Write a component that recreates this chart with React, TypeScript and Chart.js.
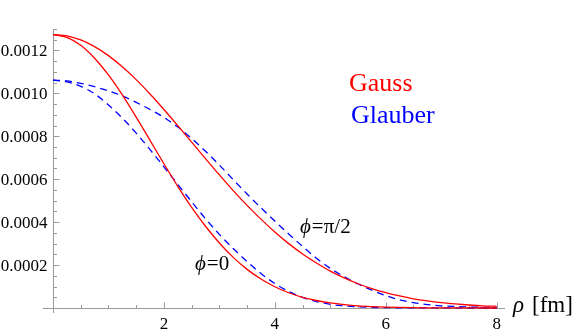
import React, { useEffect, useRef } from "react";
import { Chart, registerables } from "chart.js";

Chart.register(...registerables);

// rho values (fm)
const rho = [0, 0.25, 0.5, 0.75, 1, 1.25, 1.5, 1.75, 2, 2.25, 2.5, 2.75, 3, 3.25, 3.5, 3.75, 4, 4.25, 4.5, 4.75, 5, 5.25, 5.5, 5.75, 6, 6.25, 6.5, 6.75, 7, 7.25, 7.5, 7.75, 8];

// Gauss, phi = 0
const gaussPhi0 = [0.001274, 0.001261, 0.001224, 0.001164, 0.001086, 0.000993, 0.000889, 0.000781, 0.000672, 0.000567, 0.000469, 0.000381, 0.000303, 0.000236, 0.00018, 0.000135, 0.000099, 0.000071, 0.00005, 0.000035, 0.000024, 0.000016, 0.00001, 0.0000065, 0.0000041, 0.0000025, 0.0000015, 0.0000009, 0.0000005, 0.0000003, 0.0000002, 0.0000001, 0];
// Gauss, phi = pi/2
const gaussPhiHalfPi = [0.001274, 0.001268, 0.001249, 0.001218, 0.001176, 0.001124, 0.001064, 0.000997, 0.000925, 0.00085, 0.000773, 0.000696, 0.00062, 0.000547, 0.000478, 0.000414, 0.000354, 0.0003, 0.000252, 0.00021, 0.000172, 0.00014, 0.000113, 0.00009, 0.0000715, 0.000056, 0.000043, 0.000033, 0.000025, 0.000019, 0.000014, 0.00001, 0.0000076];
// Glauber, phi = 0
const glauberPhi0 = [0.001062, 0.001054, 0.001033, 0.000998, 0.000946, 0.000885, 0.000815, 0.000738, 0.000658, 0.000576, 0.000495, 0.000416, 0.000343, 0.000277, 0.000216, 0.000161, 0.000114, 0.000077, 0.000049, 0.00003, 0.000017, 0.00001, 0.000006, 0.000003, 0.000002, 0.000001, 0.000001, 0.0000005, 0.0000003, 0.0000002, 0.0000001, 0.0000001, 0];
// Glauber, phi = pi/2
const glauberPhiHalfPi = [0.001062, 0.001058, 0.001047, 0.001031, 0.001012, 0.000988, 0.000958, 0.000925, 0.000888, 0.000843, 0.00079, 0.00073, 0.000666, 0.000598, 0.000531, 0.000467, 0.000405, 0.000345, 0.000287, 0.000232, 0.000185, 0.000146, 0.000112, 0.000083, 0.000058, 0.000038, 0.000025, 0.000016, 0.00001, 0.000007, 0.000005, 0.000003, 0.000002];

const xMajorTicks = [2, 4, 6, 8];
const xTickLabels = ["2", "4", "6", "8"];
const xMinorTicks = [0.5, 1, 1.5, 2.5, 3, 3.5, 4.5, 5, 5.5, 6.5, 7, 7.5];
const yMajorTicks = [0.0002, 0.0004, 0.0006, 0.0008, 0.001, 0.0012];
const yTickLabels = ["0.0002", "0.0004", "0.0006", "0.0008", "0.0010", "0.0012"];
const yMinorTicks = [0.00005, 0.0001, 0.00015, 0.00025, 0.0003, 0.00035, 0.00045, 0.0005, 0.00055, 0.00065, 0.0007, 0.00075, 0.00085, 0.0009, 0.00095, 0.00105, 0.0011, 0.00115, 0.00125, 0.0013];

const SERIF = '"Liberation Serif", "Times New Roman", serif';

const toPts = (ys: number[]) => rho.map((x, i) => ({ x, y: ys[i] }));

const axesPlugin = {
  id: "mmaAxes",
  beforeDatasetsDraw(chart: any) {
    const { ctx, scales } = chart;
    const xs = scales.x;
    const ys = scales.y;
    const x0 = Math.round(xs.getPixelForValue(0)) + 0.5;
    const y0 = Math.round(ys.getPixelForValue(0)) + 0.5;
    ctx.save();
    ctx.strokeStyle = "#9a9a9a";
    ctx.lineWidth = 1;
    ctx.beginPath();
    ctx.moveTo(xs.left, y0);
    ctx.lineTo(xs.right, y0);
    ctx.moveTo(x0, ys.top);
    ctx.lineTo(x0, ys.bottom);
    for (const v of yMinorTicks) {
      const p = Math.round(ys.getPixelForValue(v)) + 0.5;
      ctx.moveTo(x0, p);
      ctx.lineTo(x0 + 3.5, p);
    }
    for (const v of yMajorTicks) {
      const p = Math.round(ys.getPixelForValue(v)) + 0.5;
      ctx.moveTo(x0, p);
      ctx.lineTo(x0 + 6, p);
    }
    for (const v of xMinorTicks) {
      const p = Math.round(xs.getPixelForValue(v)) + 0.5;
      ctx.moveTo(p, y0);
      ctx.lineTo(p, y0 - 3.5);
    }
    for (const v of xMajorTicks) {
      const p = Math.round(xs.getPixelForValue(v)) + 0.5;
      ctx.moveTo(p, y0);
      ctx.lineTo(p, y0 - 6);
    }
    ctx.stroke();

    ctx.fillStyle = "#000";
    ctx.font = `17px ${SERIF}`;
    ctx.textAlign = "right";
    ctx.textBaseline = "middle";
    yMajorTicks.forEach((v, i) => {
      ctx.fillText(yTickLabels[i], x0 - 6, ys.getPixelForValue(v) + 1);
    });
    ctx.textAlign = "center";
    ctx.textBaseline = "alphabetic";
    xMajorTicks.forEach((v, i) => {
      ctx.fillText(xTickLabels[i], xs.getPixelForValue(v), y0 + 20);
    });
    ctx.restore();
  },
  afterDraw(chart: any) {
    const { ctx } = chart;
    ctx.save();
    ctx.textAlign = "left";
    ctx.textBaseline = "alphabetic";
    // legend texts
    ctx.font = `26px ${SERIF}`;
    ctx.fillStyle = "#ff0000";
    ctx.fillText("Gauss", 349, 91);
    ctx.fillStyle = "#0000ff";
    ctx.fillText("Glauber", 351, 123);

    // curve labels
    ctx.fillStyle = "#000";
    const drawPhi = (rest: string, x: number, y: number, size: number) => {
      ctx.font = `italic ${size}px ${SERIF}`;
      ctx.fillText("\u03d5", x, y);
      const w = ctx.measureText("\u03d5").width;
      ctx.font = `${size}px ${SERIF}`;
      ctx.fillText(rest, x + w + 1, y);
    };
    drawPhi("=\u03c0/2", 300, 233, 21);
    drawPhi("=0", 195, 270, 21);

    // x axis title
    ctx.font = `italic 23px ${SERIF}`;
    ctx.fillText("\u03c1", 513, 312);
    ctx.font = `23px ${SERIF}`;
    ctx.fillText("[fm]", 532, 312);
    ctx.restore();
  },
};

export default function App() {
  const ref = useRef<HTMLCanvasElement>(null);
  useEffect(() => {
    if (!ref.current) return;
    const common = { pointRadius: 0, borderWidth: 1.3, cubicInterpolationMode: "monotone" as const, fill: false };
    const chart = new Chart(ref.current, {
      type: "line",
      data: {
        datasets: [
          { label: "Gauss φ=0", data: toPts(gaussPhi0), borderColor: "#ff0000", ...common },
          { label: "Gauss φ=π/2", data: toPts(gaussPhiHalfPi), borderColor: "#ff0000", ...common },
          { label: "Glauber φ=0", data: toPts(glauberPhi0), borderColor: "#0000ff", borderDash: [7, 5], ...common },
          { label: "Glauber φ=π/2", data: toPts(glauberPhiHalfPi), borderColor: "#0000ff", borderDash: [7, 5], ...common },
        ],
      },
      options: {
        responsive: false,
        animation: false,
        layout: { padding: { left: 43, right: 76, top: 29, bottom: 20 } },
        plugins: { legend: { display: false }, tooltip: { enabled: false } },
        scales: {
          x: { type: "linear", min: -0.18, max: 8.15, display: false },
          y: { type: "linear", min: -0.0000233, max: 0.0013, display: false },
        },
      },
      plugins: [axesPlugin],
    });
    return () => chart.destroy();
  }, []);
  return (
    <div style={{ position: "absolute", left: 0, top: 0, width: 581, height: 333, background: "#fff" }}>
      <canvas ref={ref} width={581} height={333} style={{ display: "block" }} />
    </div>
  );
}
